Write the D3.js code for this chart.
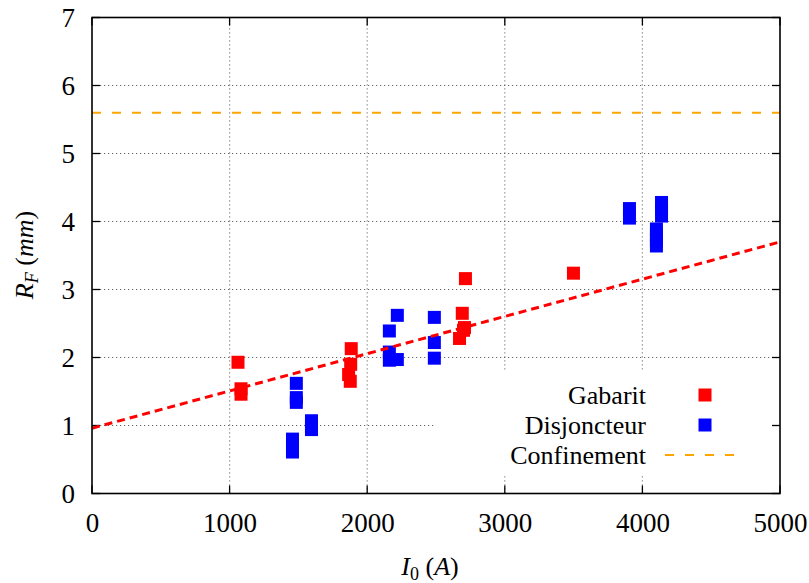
<!DOCTYPE html>
<html><head><meta charset="utf-8">
<script src="https://cdn.jsdelivr.net/npm/d3@7"></script>
<style>body{margin:0;background:#fff}svg text{font-family:"Times New Roman","Liberation Serif","DejaVu Serif",Times,serif !important;fill:#000}</style>
</head><body><svg id="c" width="809" height="583"></svg>
<script>
const xTicks=[0,1000,2000,3000,4000,5000];
const yTicks=[0,1,2,3,4,5,6,7];
const gabaritX=[1061,1083,1083,1880,1884,1865,1877,2714,2691,2707,2700,2671,3499];
const gabaritY=[1.93,1.54,1.46,1.90,2.13,1.75,1.65,3.16,2.65,2.44,2.40,2.28,3.24];
const disjX=[1485,1485,1485,1457,1457,1457,1595,1595,1595,2219,2161,2161,2161,2219,2488,2488,2488,3906,3906,4139,4139,4139,4102,4102,4102,4102];
const disjY=[1.62,1.41,1.34,0.80,0.70,0.61,1.07,1.00,0.94,2.62,2.39,2.08,1.96,1.97,2.59,2.22,1.99,4.19,4.05,4.28,4.18,4.08,3.89,3.80,3.72,3.64];
const fitX=[0,5000];
const fitY=[0.96,3.70];
const confinementY=5.6;
const legendLabels=["Gabarit","Disjoncteur","Confinement"];

const svg=d3.select("#c");
const L=92,R=780,T=17.5,B=493.5;
const x=d3.scaleLinear().domain([0,5000]).range([L,R]);
const y=d3.scaleLinear().domain([0,7]).range([B,T]);

// grid
const g=svg.append("g");
g.selectAll(".gx").data(xTicks.slice(1,-1)).enter().append("line")
 .attr("x1",d=>x(d)).attr("x2",d=>x(d)).attr("y1",B).attr("y2",T)
 .attr("stroke","#888").attr("stroke-width",1.2).attr("stroke-dasharray","1.2,2.8");
g.selectAll(".gy").data(yTicks.slice(1,-1)).enter().append("line")
 .attr("x1",L).attr("x2",R).attr("y1",d=>y(d)).attr("y2",d=>y(d))
 .attr("stroke","#666").attr("stroke-width",1.2).attr("stroke-dasharray","1.2,2.8");

// legend opaque box
svg.append("rect").attr("x",436).attr("y",372).attr("width",334).attr("height",104).attr("fill","#fff");

// axes with tick labels
const ax=d3.axisBottom(x).tickValues(xTicks).tickSize(0).tickPadding(0).tickFormat(d3.format("d"));
const ay=d3.axisLeft(y).tickValues(yTicks).tickSize(0).tickFormat(d3.format("d"));
const gx=svg.append("g").attr("transform",`translate(0,${B})`).call(ax).attr("font-family",null).attr("font-size",null);
gx.select(".domain").remove();
gx.selectAll("text").attr("y",38).attr("dy",0).style("font-size","27px");
const gy=svg.append("g").attr("transform",`translate(${L},0)`).call(ay).attr("font-family",null).attr("font-size",null);
gy.select(".domain").remove();
gy.selectAll("text").attr("x",-17).attr("dy","0.34em").style("font-size","27px");

// tick marks inward, mirrored
const tk=svg.append("g").attr("stroke","#000").attr("stroke-width",1.3);
xTicks.forEach(d=>{tk.append("line").attr("x1",x(d)).attr("x2",x(d)).attr("y1",B).attr("y2",B-8);
 tk.append("line").attr("x1",x(d)).attr("x2",x(d)).attr("y1",T).attr("y2",T+8);});
yTicks.forEach(d=>{tk.append("line").attr("x1",L).attr("x2",L+8).attr("y1",y(d)).attr("y2",y(d));
 tk.append("line").attr("x1",R).attr("x2",R-8).attr("y1",y(d)).attr("y2",y(d));});

// confinement line
svg.append("line").attr("x1",x(0)).attr("x2",x(5000)).attr("y1",y(confinementY)).attr("y2",y(confinementY))
 .attr("stroke","#ffa500").attr("stroke-width",2).attr("stroke-dasharray","9,11");

// points
const s=13;
svg.append("g").selectAll("rect").data(gabaritX.map((v,i)=>[v,gabaritY[i]])).enter().append("rect")
 .attr("x",d=>x(d[0])-s/2).attr("y",d=>y(d[1])-s/2).attr("width",s).attr("height",s).attr("fill","#ff0000");
svg.append("g").selectAll("rect").data(disjX.map((v,i)=>[v,disjY[i]])).enter().append("rect")
 .attr("x",d=>x(d[0])-s/2).attr("y",d=>y(d[1])-s/2).attr("width",s).attr("height",s).attr("fill","#0000ff");

// fit line
svg.append("path").datum(fitX.map((v,i)=>[v,fitY[i]]))
 .attr("d",d3.line().x(d=>x(d[0])).y(d=>y(d[1])))
 .attr("stroke","#ff0000").attr("stroke-width",3).attr("fill","none").attr("stroke-dasharray","8,5");

// frame
svg.append("rect").attr("x",L).attr("y",T).attr("width",R-L).attr("height",B-T)
 .attr("fill","none").attr("stroke","#000").attr("stroke-width",1.6);

// legend
const lg=svg.append("g");
const ly=[395,425,455];
legendLabels.forEach((t,i)=>{
 lg.append("text").attr("x",646).attr("y",ly[i]).attr("dy","0.34em").attr("text-anchor","end").style("font-size","26px").text(t);
});
lg.append("rect").attr("x",705-s/2).attr("y",ly[0]-s/2).attr("width",s).attr("height",s).attr("fill","#ff0000");
lg.append("rect").attr("x",705-s/2).attr("y",ly[1]-s/2).attr("width",s).attr("height",s).attr("fill","#0000ff");
lg.append("line").attr("x1",665).attr("x2",736).attr("y1",ly[2]).attr("y2",ly[2])
 .attr("stroke","#ffa500").attr("stroke-width",2).attr("stroke-dasharray","9,11");

// axis titles
const xt=svg.append("text").attr("x",430).attr("y",575).attr("text-anchor","middle").style("font-size","26px");
xt.append("tspan").style("font-style","italic").text("I");
xt.append("tspan").attr("dy",5).style("font-size","18px").text("0");
xt.append("tspan").attr("dy",-5).text(" (");
xt.append("tspan").style("font-style","italic").text("A");
xt.append("tspan").text(")");
const yt=svg.append("text").attr("transform","translate(33,255) rotate(-90)").attr("text-anchor","middle").style("font-size","26px");
yt.append("tspan").style("font-style","italic").text("R");
yt.append("tspan").attr("dy",5).style("font-size","18px").style("font-style","italic").text("F");
yt.append("tspan").attr("dy",-5).text(" (");
yt.append("tspan").style("font-style","italic").text("mm");
yt.append("tspan").text(")");
</script></body></html>
